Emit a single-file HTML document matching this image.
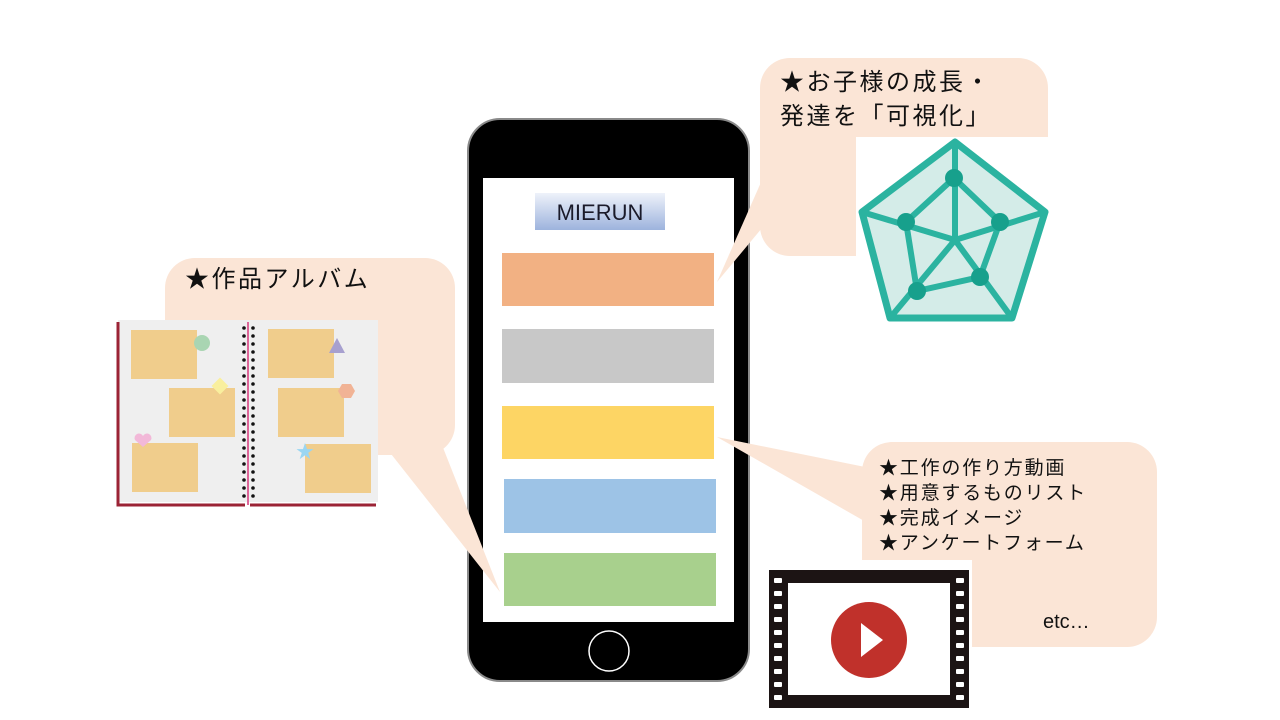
<!DOCTYPE html>
<html><head><meta charset="utf-8"><style>
html,body{margin:0;padding:0;background:#fff;}
svg{display:block;}
text{font-family:"Liberation Sans","Noto Sans CJK JP",sans-serif;}
</style></head><body>
<svg width="1280" height="720" viewBox="0 0 1280 720" xmlns="http://www.w3.org/2000/svg">
<defs>
<linearGradient id="g1" x1="0" y1="0" x2="0" y2="1">
<stop offset="0" stop-color="#eef2fa"/><stop offset="1" stop-color="#9db3dd"/>
</linearGradient>
</defs>
<!-- phone -->
<rect x="468" y="119" width="281" height="562" rx="32" fill="#000" stroke="#8a8a8a" stroke-width="2"/>
<rect x="483" y="178" width="251" height="444" fill="#fff"/>
<rect x="535" y="193" width="130" height="37" fill="url(#g1)"/>
<text x="600" y="220" font-size="22" text-anchor="middle" fill="#1a1a2a">MIERUN</text>
<rect x="502" y="253" width="212" height="53" fill="#f2b183"/>
<rect x="502" y="329" width="212" height="54" fill="#c8c8c8"/>
<rect x="502" y="406" width="212" height="53" fill="#fdd564"/>
<rect x="504" y="479" width="212" height="54" fill="#9dc3e6"/>
<rect x="504" y="553" width="212" height="53" fill="#a8d08d"/>
<circle cx="609" cy="651" r="20" fill="#000" stroke="#fff" stroke-width="1.5"/>

<!-- left bubble -->
<g fill="#fbe5d6">
<rect x="165" y="258" width="290" height="197" rx="30"/>
<polygon points="380,440 440,440 500,592"/>
</g>
<text x="185" y="287" font-size="24" letter-spacing="2.5" fill="#111">★作品アルバム</text>

<!-- book -->
<rect x="118" y="320" width="260" height="182" fill="#efefef"/>
<path d="M118,322 V505 H245 M250,505 H376" stroke="#9b2335" stroke-width="3" fill="none"/>
<line x1="248" y1="322" x2="248" y2="505" stroke="#d69" stroke-width="2"/>
<g fill="#f0cd8c">
<rect x="131" y="330" width="66" height="49"/>
<rect x="169" y="388" width="66" height="49"/>
<rect x="132" y="443" width="66" height="49"/>
<rect x="268" y="329" width="66" height="49"/>
<rect x="278" y="388" width="66" height="49"/>
<rect x="305" y="444" width="66" height="49"/>
</g>
<circle cx="202" cy="343" r="8" fill="#a9d5b2"/>
<rect x="214" y="380" width="12" height="12" fill="#f9ef9e" transform="rotate(45 220 386)"/>
<path d="M143,447 l-8,-7 a4,4 0 0 1 8,-4 a4,4 0 0 1 8,4 z" fill="#f2b8d8"/>
<polygon points="337,338 329,353 345,353" fill="#a7a0cf"/>
<polygon points="342,384 351,384 355,391 351,398 342,398 338,391" fill="#f1b395"/>
<text x="305" y="458" font-size="18" fill="#9ad6f2" text-anchor="middle">★</text>
<g fill="#111">
<circle cx="244" cy="328" r="1.8"/><circle cx="253" cy="328" r="1.8"/>
<circle cx="244" cy="336" r="1.8"/><circle cx="253" cy="336" r="1.8"/>
<circle cx="244" cy="344" r="1.8"/><circle cx="253" cy="344" r="1.8"/>
<circle cx="244" cy="352" r="1.8"/><circle cx="253" cy="352" r="1.8"/>
<circle cx="244" cy="360" r="1.8"/><circle cx="253" cy="360" r="1.8"/>
<circle cx="244" cy="368" r="1.8"/><circle cx="253" cy="368" r="1.8"/>
<circle cx="244" cy="376" r="1.8"/><circle cx="253" cy="376" r="1.8"/>
<circle cx="244" cy="384" r="1.8"/><circle cx="253" cy="384" r="1.8"/>
<circle cx="244" cy="392" r="1.8"/><circle cx="253" cy="392" r="1.8"/>
<circle cx="244" cy="400" r="1.8"/><circle cx="253" cy="400" r="1.8"/>
<circle cx="244" cy="408" r="1.8"/><circle cx="253" cy="408" r="1.8"/>
<circle cx="244" cy="416" r="1.8"/><circle cx="253" cy="416" r="1.8"/>
<circle cx="244" cy="424" r="1.8"/><circle cx="253" cy="424" r="1.8"/>
<circle cx="244" cy="432" r="1.8"/><circle cx="253" cy="432" r="1.8"/>
<circle cx="244" cy="440" r="1.8"/><circle cx="253" cy="440" r="1.8"/>
<circle cx="244" cy="448" r="1.8"/><circle cx="253" cy="448" r="1.8"/>
<circle cx="244" cy="456" r="1.8"/><circle cx="253" cy="456" r="1.8"/>
<circle cx="244" cy="464" r="1.8"/><circle cx="253" cy="464" r="1.8"/>
<circle cx="244" cy="472" r="1.8"/><circle cx="253" cy="472" r="1.8"/>
<circle cx="244" cy="480" r="1.8"/><circle cx="253" cy="480" r="1.8"/>
<circle cx="244" cy="488" r="1.8"/><circle cx="253" cy="488" r="1.8"/>
<circle cx="244" cy="496" r="1.8"/><circle cx="253" cy="496" r="1.8"/>
</g>

<!-- top right bubble -->
<g fill="#fbe5d6">
<rect x="760" y="58" width="288" height="198" rx="30"/>
<polygon points="762,180 762,228 717,282"/>
</g>
<rect x="856" y="137" width="200" height="200" fill="#fff"/>
<text x="780" y="90" font-size="24" letter-spacing="2.5" fill="#111">★お子様の成長・</text>
<text x="780" y="124" font-size="24" letter-spacing="2.5" fill="#111">発達を「可視化」</text>
<polygon points="955,142 1045,212 1012,318 890,318 862,212" fill="#d4ece8" stroke="#2bb3a0" stroke-width="7" stroke-linejoin="round"/>
<g stroke="#2bb3a0" stroke-width="6" fill="none">
<line x1="955" y1="142" x2="955" y2="240"/>
<line x1="862" y1="212" x2="955" y2="240"/>
<line x1="1045" y1="212" x2="955" y2="240"/>
<line x1="890" y1="318" x2="955" y2="240"/>
<line x1="1012" y1="318" x2="955" y2="240"/>
<polygon points="954,178 1000,222 980,277 917,291 906,222"/>
</g>
<g fill="#17a08c">
<circle cx="954" cy="178" r="9"/><circle cx="1000" cy="222" r="9"/><circle cx="980" cy="277" r="9"/><circle cx="917" cy="291" r="9"/><circle cx="906" cy="222" r="9"/>
</g>

<!-- bottom right bubble -->
<g fill="#fbe5d6">
<rect x="862" y="442" width="295" height="205" rx="30"/>
<polygon points="717,437 880,470 880,530"/>
</g>
<g font-size="19" letter-spacing="1.8" fill="#111">
<text x="879" y="474">★工作の作り方動画</text>
<text x="879" y="499">★用意するものリスト</text>
<text x="879" y="524">★完成イメージ</text>
<text x="879" y="549">★アンケートフォーム</text>
<text x="1043" y="628" font-size="20" letter-spacing="0">etc…</text>
</g>

<!-- video -->
<rect x="762" y="560" width="210" height="160" fill="#fff"/>
<rect x="769" y="570" width="200" height="138" fill="#1c1414"/>
<rect x="788" y="583" width="162" height="112" fill="#fff"/>
<g fill="#fff">
<rect x="774" y="578" width="8" height="5" rx="1"/><rect x="774" y="591" width="8" height="5" rx="1"/><rect x="774" y="604" width="8" height="5" rx="1"/><rect x="774" y="617" width="8" height="5" rx="1"/><rect x="774" y="630" width="8" height="5" rx="1"/><rect x="774" y="643" width="8" height="5" rx="1"/><rect x="774" y="656" width="8" height="5" rx="1"/><rect x="774" y="669" width="8" height="5" rx="1"/><rect x="774" y="682" width="8" height="5" rx="1"/><rect x="774" y="695" width="8" height="5" rx="1"/>
<rect x="956" y="578" width="8" height="5" rx="1"/><rect x="956" y="591" width="8" height="5" rx="1"/><rect x="956" y="604" width="8" height="5" rx="1"/><rect x="956" y="617" width="8" height="5" rx="1"/><rect x="956" y="630" width="8" height="5" rx="1"/><rect x="956" y="643" width="8" height="5" rx="1"/><rect x="956" y="656" width="8" height="5" rx="1"/><rect x="956" y="669" width="8" height="5" rx="1"/><rect x="956" y="682" width="8" height="5" rx="1"/><rect x="956" y="695" width="8" height="5" rx="1"/>
</g>
<circle cx="869" cy="640" r="38" fill="#c0312b"/>
<polygon points="861,623 861,657 883,640" fill="#fff"/>
</svg>
</body></html>
